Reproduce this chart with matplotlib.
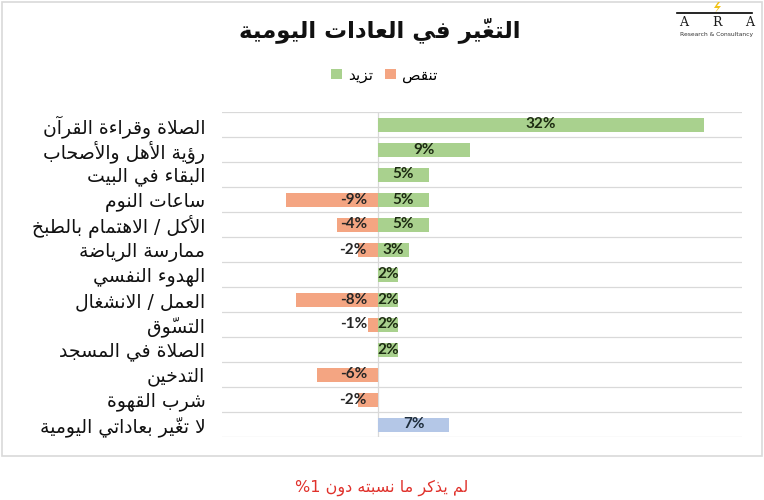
import matplotlib
matplotlib.use("Agg")
import matplotlib.pyplot as plt
from matplotlib.patches import Patch, Rectangle, Polygon
from matplotlib.lines import Line2D
import numpy as np

# ---------------- data ----------------
categories = [
    "الصلاة وقراءة القرآن",
    "رؤية الأهل والأصحاب",
    "البقاء في البيت",
    "ساعات النوم",
    "الأكل / الاهتمام بالطبخ",
    "ممارسة الرياضة",
    "الهدوء النفسي",
    "العمل / الانشغال",
    "التسوّق",
    "الصلاة في المسجد",
    "التدخين",
    "شرب القهوة",
    "لا تغيّر بعاداتي اليومية",
]
increase = [32, 9, 5, 5, 5, 3, 2, 2, 2, 2, np.nan, np.nan, 7]
decrease = [np.nan, np.nan, np.nan, -9, -4, -2, np.nan, -8, -1, np.nan, -6, -2, np.nan]
no_change_index = 12
title_text = "التغيّر في العادات اليومية"
legend_increase = "تزيد"
legend_decrease = "تنقص"
footer_text = "لم يذكر ما نسبته دون 1%"

# ---------------- minimal Arabic shaping ----------------
_table = [('ء', 0xFE80, 1), ('آ', 0xFE81, 2), ('أ', 0xFE83, 2), ('ؤ', 0xFE85, 2),
          ('إ', 0xFE87, 2), ('ئ', 0xFE89, 4), ('ا', 0xFE8D, 2), ('ب', 0xFE8F, 4),
          ('ة', 0xFE93, 2), ('ت', 0xFE95, 4), ('ث', 0xFE99, 4), ('ج', 0xFE9D, 4),
          ('ح', 0xFEA1, 4), ('خ', 0xFEA5, 4), ('د', 0xFEA9, 2), ('ذ', 0xFEAB, 2),
          ('ر', 0xFEAD, 2), ('ز', 0xFEAF, 2), ('س', 0xFEB1, 4), ('ش', 0xFEB5, 4),
          ('ص', 0xFEB9, 4), ('ض', 0xFEBD, 4), ('ط', 0xFEC1, 4), ('ظ', 0xFEC5, 4),
          ('ع', 0xFEC9, 4), ('غ', 0xFECD, 4), ('ف', 0xFED1, 4), ('ق', 0xFED5, 4),
          ('ك', 0xFED9, 4), ('ل', 0xFEDD, 4), ('م', 0xFEE1, 4), ('ن', 0xFEE5, 4),
          ('ه', 0xFEE9, 4), ('و', 0xFEED, 2), ('ى', 0xFEEF, 2), ('ي', 0xFEF1, 4)]
FORMS = {c: tuple(chr(s + k) for k in range(n)) for c, s, n in _table}
LAMALEF = {'آ': 0xFEF5, 'أ': 0xFEF7, 'إ': 0xFEF9, 'ا': 0xFEFB}
MARKS = set(chr(c) for c in range(0x064B, 0x0653))


def _jtype(c):
    if c.startswith('LA'):
        return 'R'
    if c in FORMS:
        n = len(FORMS[c])
        return 'D' if n == 4 else ('R' if n == 2 else 'U')
    return 'U'


def shape(s):
    toks = []
    for ch in s:
        if ch in MARKS and toks:
            toks[-1][1] += ch
        else:
            toks.append([ch, ''])
    merged = []
    i = 0
    while i < len(toks):
        c, m = toks[i]
        if c == 'ل' and i + 1 < len(toks) and toks[i + 1][0] in LAMALEF:
            merged.append(['LA' + toks[i + 1][0], m + toks[i + 1][1]])
            i += 2
        else:
            merged.append([c, m])
            i += 1
    out = []
    for i, (c, m) in enumerate(merged):
        t = _jtype(c)
        prev = _jtype(merged[i - 1][0]) if i > 0 else 'U'
        nxt = _jtype(merged[i + 1][0]) if i + 1 < len(merged) else 'U'
        jp = t in ('D', 'R') and prev == 'D'
        jn = t == 'D' and nxt in ('D', 'R')
        if c.startswith('LA'):
            g = chr(LAMALEF[c[2]] + (1 if jp else 0))
        elif c in FORMS:
            f = FORMS[c]
            if len(f) == 1:
                g = f[0]
            elif jp and jn:
                g = f[3]
            elif jp:
                g = f[1]
            elif jn:
                g = f[2]
            else:
                g = f[0]
        else:
            g = c
        out.append(g + m)
    return ''.join(reversed(out))


# ---------------- styling ----------------
plt.rcParams['font.family'] = ['DejaVu Sans']
GREEN = '#a9d18e'
ORANGE = '#f4a582'
BLUE = '#b4c7e7'
GRID = '#d9d9d9'

fig = plt.figure(figsize=(7.64, 5.0), dpi=100)
fig.patch.set_facecolor('white')

W, H = 764.0, 500.0
ax = fig.add_axes([222 / W, 1 - 437 / H, 520 / W, 325 / H])

n = len(categories)
y = np.arange(n)
inc_colors = [BLUE if i == no_change_index else GREEN for i in range(n)]
bh = 0.56
ax.barh(y, increase, height=bh, color=inc_colors, zorder=3)
ax.barh(y, decrease, height=bh, color=ORANGE, zorder=3)

ax.set_xlim(-15.3, 35.7)
ax.set_ylim(n - 0.5, -0.5)

# horizontal separators
for b in np.arange(-0.5, n, 1.0):
    ax.axhline(b, color=GRID, lw=0.9, zorder=1)
ax.axvline(0, color=GRID, lw=0.9, zorder=2)

for s in ax.spines.values():
    s.set_visible(False)
ax.set_xticks([])
ax.set_yticks(y, labels=[shape(c) for c in categories])
ax.tick_params(axis='y', length=0, pad=12, labelsize=13.5, labelcolor='#111111')

lab_font = dict(family=['Lato', 'DejaVu Sans'], weight='bold', fontsize=11)
for i, v in enumerate(increase):
    if not np.isnan(v):
        col = '#1f2e3d' if i == no_change_index else '#1d2b12'
        ax.text(v / 2, i, f"{v:.0f}%", ha='center', va='center', color=col,
                zorder=4, **lab_font)
for i, v in enumerate(decrease):
    if not np.isnan(v):
        ax.annotate(f"{v:.0f}%", xy=(0, i), xytext=(-8, 0), textcoords='offset points',
                    ha='right', va='center', color='#262626', zorder=4, **lab_font)

# title
fig.text(380 / W, 1 - 30 / H, shape(title_text), ha='center', va='center',
         fontsize=16.5, fontweight='bold', color='#111111')

# legend
handles = [Patch(facecolor=GREEN, label=shape(legend_increase)),
           Patch(facecolor=ORANGE, label=shape(legend_decrease))]
fig.legend(handles=handles, loc='center', bbox_to_anchor=(384 / W, 1 - 75 / H), ncol=2,
           frameon=False, fontsize=11, handlelength=0.7, handleheight=0.7,
           handletextpad=0.4, columnspacing=0.8)

# footer
fig.text(382 / W, 1 - 488 / H, shape(footer_text), ha='center', va='center',
         fontsize=11.5, color='#e0312b')

# frame
fig.patches.append(Rectangle((2 / W, 1 - 456 / H), 760 / W, 454 / H, transform=fig.transFigure,
                             fill=False, edgecolor='#d9d9d9', lw=1.2))

# logo
fig.lines.append(Line2D([677 / W, 752 / W], [1 - 13 / H, 1 - 13 / H], transform=fig.transFigure,
                        color='black', lw=1.2))
fig.patches.append(Polygon([(718 / W, 1 - 2 / H), (714 / W, 1 - 8 / H), (718 / W, 1 - 8 / H),
                            (715 / W, 1 - 13 / H), (721 / W, 1 - 6 / H), (717 / W, 1 - 6 / H),
                            (720 / W, 1 - 2 / H)], closed=True, transform=fig.transFigure,
                           facecolor='#f2c318', edgecolor='none'))
for xx, ch in zip([684, 717, 750], "ARA"):
    fig.text(xx / W, 1 - 22 / H, ch, ha='center', va='center', family='DejaVu Serif',
             fontsize=9, color='#1a1a1a')
fig.text(717 / W, 1 - 34 / H, "Research & Consultancy", ha='center', va='center',
         fontsize=4.3, color='#333333')

fig.savefig('out.png', dpi=100, facecolor='white')
